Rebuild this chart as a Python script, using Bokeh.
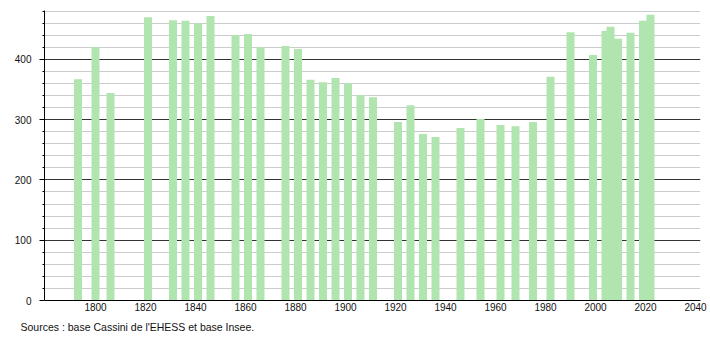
from bokeh.plotting import figure
from bokeh.models import FixedTicker, Range1d, Title, ColumnDataSource
from bokeh.embed import file_html
from bokeh.resources import INLINE

years = [1793, 1800, 1806, 1821, 1831, 1836, 1841, 1846, 1856, 1861, 1866,
         1876, 1881, 1886, 1891, 1896, 1901, 1906, 1911, 1921, 1926, 1931,
         1936, 1946, 1954, 1962, 1968, 1975, 1982, 1990, 1999, 2004, 2006,
         2009, 2014, 2019, 2022]
population = [367, 420, 344, 470, 465, 464, 460, 472, 440, 442, 420,
              422, 417, 366, 362, 369, 360, 341, 337, 296, 324, 276,
              271, 286, 301, 291, 289, 296, 371, 445, 407, 447, 454,
              434, 444, 464, 474]
x_ticks = list(range(1800, 2041, 20))
y_ticks = [0, 100, 200, 300, 400]
source_text = "Sources : base Cassini de l'EHESS et base Insee."

FONT = "Liberation Sans"

src = ColumnDataSource(dict(year=years, pop=population))

p = figure(width=710, height=340, output_backend="svg", toolbar_location=None,
           x_range=Range1d(1779.6, 2042), y_range=Range1d(0, 481),
           min_border_left=44, min_border_right=10, min_border_top=10,
           min_border_bottom=40)
p.outline_line_color = None
p.background_fill_color = "white"
p.border_fill_color = "white"

p.vbar(x="year", top="pop", width=3.2, bottom=0, source=src,
       fill_color="#b0e5b0", line_color=None)

# x axis
p.xaxis.ticker = FixedTicker(ticks=x_ticks)
p.xaxis.major_tick_out = 0
p.xaxis.major_tick_in = 0
p.xaxis.minor_tick_out = 0
p.xaxis.minor_tick_in = 0
p.xaxis.axis_line_color = "black"
p.xaxis.major_label_standoff = 2
p.xaxis.major_label_text_font = FONT
p.xaxis.major_label_text_font_size = "10px"
p.xaxis.major_label_text_color = "#111111"

# y axis
minor = [v for v in range(0, 481, 20) if v % 100 != 0]
p.yaxis.ticker = FixedTicker(ticks=y_ticks, minor_ticks=minor)
p.yaxis.major_tick_out = 5
p.yaxis.major_tick_in = 0
p.yaxis.minor_tick_out = 2
p.yaxis.minor_tick_in = 0
p.yaxis.axis_line_color = "black"
p.yaxis.major_tick_line_color = "black"
p.yaxis.minor_tick_line_color = "black"
p.yaxis.major_label_standoff = 8
p.yaxis.major_label_text_font = FONT
p.yaxis.major_label_text_font_size = "10px"
p.yaxis.major_label_text_color = "#111111"

p.xgrid.grid_line_color = None
p.ygrid.grid_line_color = "#333333"
p.ygrid.grid_line_width = 1
p.ygrid.minor_grid_line_color = "#cccccc"
p.ygrid.minor_grid_line_width = 1
p.ygrid.level = "underlay"

t = Title(text=source_text, align="left", text_font=FONT, text_font_size="10.5px",
          text_font_style="normal", text_color="#111111", offset=-24,
          standoff=10)
p.add_layout(t, "below")

open("out.html", "w").write(file_html(p, INLINE))
